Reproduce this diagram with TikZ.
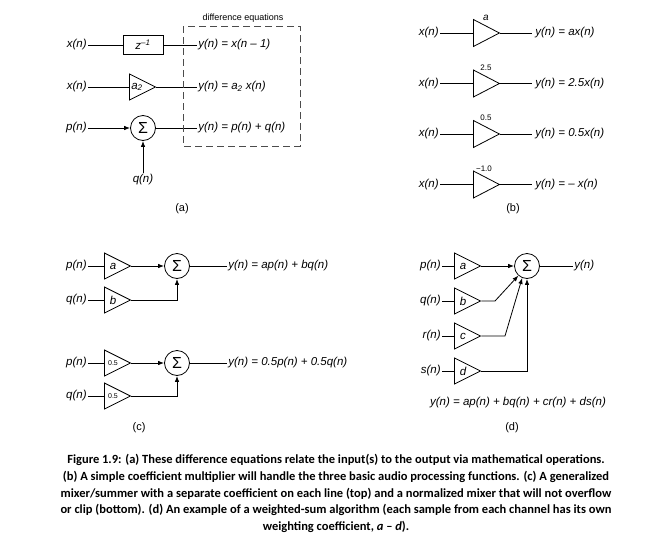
\documentclass[tikz,border=0pt]{standalone}
\usepackage{fontspec}
\setmainfont{Liberation Sans}
\newfontfamily\capfont{Carlito}
\usetikzlibrary{shapes.geometric,arrows.meta}
\tikzset{
  amp/.style={isosceles triangle, isosceles triangle stretches, draw, inner sep=0pt,
    minimum width=26pt, minimum height=26pt},
  sum/.style={circle, draw, inner sep=0pt, minimum size=25pt, font=\fontsize{16}{16}\selectfont},
  sig/.style={font=\fontsize{11.5}{13}\selectfont\itshape, inner sep=1pt},
  coef/.style={font=\fontsize{8}{9}\selectfont, inner sep=0pt},
  tag/.style={font=\fontsize{11}{13}\selectfont},
}

\begin{document}
\begin{tikzpicture}[x=1pt, y=-1pt, line width=0.8pt, >={Latex[length=6pt,width=4.5pt]}]
  \useasboundingbox (0,0) rectangle (672,549);
  % (a) difference equations
  \node[sig, anchor=east] (xa1) at (88,45) {x(n)};
  \node[draw, minimum width=40pt, minimum height=19pt, inner sep=0pt, sig] (dly) at (143,45) {z\textsuperscript{–1}};
  \node[sig, anchor=west] (ya1) at (197,45) {y(n) = x(n – 1)};
  \draw (xa1) -- (dly) (dly) -- (ya1);
  \node[sig, anchor=east] (xa2) at (88,87) {x(n)};
  \node[amp, anchor=lower side] (amp2) at (129,87) {};
  \node[sig] at ([xshift=8pt]amp2.lower side) {a\textsubscript{2}};
  \node[sig, anchor=west] (ya2) at (197,87) {y(n) = a\textsubscript{2} x(n)};
  \draw (xa2) -- (amp2.lower side) (amp2.apex) -- (ya2);
  \node[sig, anchor=east] (pa) at (88,128) {p(n)};
  \node[sum] (suma) at (143,128) {Σ};
  \node[sig] (qa) at (143,180) {q(n)};
  \node[sig, anchor=west] (ya3) at (197,128) {y(n) = p(n) + q(n)};
  \draw[->] (pa) -- (suma);
  \draw[->] (qa) -- (suma);
  \draw (suma) -- (ya3);
  \draw[black!70, dash pattern=on 7pt off 4pt, line width=0.9pt] (183,26) rectangle (300,146);
  \node[font=\fontsize{9}{10}\selectfont] (deq) at (243,18) {difference equations};
  \node[tag] (capa) at (182,209) {(a)};

  % (b) coefficient multipliers
  \node[sig, anchor=east] (xb1) at (440,33) {x(n)};
  \node[amp, minimum width=27pt, anchor=lower side] (mb1) at (473,33) {};
  \node[sig, inner sep=0pt, font=\fontsize{10}{10}\selectfont\itshape] at ([xshift=13pt,yshift=15pt]mb1.lower side) {a};
  \node[sig, anchor=west, inner sep=3pt] (yb1) at (532,33) {y(n) = ax(n)};
  \draw (xb1) -- (mb1.lower side) (mb1.apex) -- (yb1);
  \node[sig, anchor=east] (xb2) at (440,83.5) {x(n)};
  \node[amp, minimum width=27pt, anchor=lower side] (mb2) at (473,83.5) {};
  \node[coef] at ([xshift=13pt,yshift=16pt]mb2.lower side) {2.5};
  \node[sig, anchor=west, inner sep=3pt] (yb2) at (532,83.5) {y(n) = 2.5x(n)};
  \draw (xb2) -- (mb2.lower side) (mb2.apex) -- (yb2);
  \node[sig, anchor=east] (xb3) at (440,134) {x(n)};
  \node[amp, minimum width=27pt, anchor=lower side] (mb3) at (473,134) {};
  \node[coef] at ([xshift=13pt,yshift=16pt]mb3.lower side) {0.5};
  \node[sig, anchor=west, inner sep=3pt] (yb3) at (532,134) {y(n) = 0.5x(n)};
  \draw (xb3) -- (mb3.lower side) (mb3.apex) -- (yb3);
  \node[sig, anchor=east] (xb4) at (440,184.5) {x(n)};
  \node[amp, minimum width=27pt, anchor=lower side] (mb4) at (473,184.5) {};
  \node[coef] at ([xshift=11pt,yshift=16pt]mb4.lower side) {−1.0};
  \node[sig, anchor=west, inner sep=3pt] (yb4) at (532,184.5) {y(n) = – x(n)};
  \draw (xb4) -- (mb4.lower side) (mb4.apex) -- (yb4);
  \node[tag] (capb) at (513,209) {(b)};

  % (c) mixers
  \node[sig, anchor=east] (pc1) at (88,266) {p(n)};
  \node[amp, anchor=lower side] (ac1) at (104,266) {};
  \node[sig] at ([xshift=9pt]ac1.lower side) {a};
  \node[sig, anchor=east] (qc1) at (88,300) {q(n)};
  \node[amp, anchor=lower side] (bc1) at (104,300) {};
  \node[sig] at ([xshift=9pt]bc1.lower side) {b};
  \node[sum] (sc1) at (177,266) {Σ};
  \node[sig, anchor=west] (yc1) at (227,266) {y(n) = ap(n) + bq(n)};
  \draw (pc1) -- (ac1.lower side) (qc1) -- (bc1.lower side);
  \draw[->] (ac1.apex) -- (sc1);
  \draw[->] (bc1.apex) -| (sc1.south);
  \draw (sc1) -- (yc1);
  \node[sig, anchor=east] (pc2) at (88,363) {p(n)};
  \node[amp, anchor=lower side] (ac2) at (104,363) {};
  \node[coef, font=\fontsize{7}{8}\selectfont] at ([xshift=9pt]ac2.lower side) {0.5};
  \node[sig, anchor=east] (qc2) at (88,396) {q(n)};
  \node[amp, anchor=lower side] (bc2) at (104,396) {};
  \node[coef, font=\fontsize{7}{8}\selectfont] at ([xshift=9pt]bc2.lower side) {0.5};
  \node[sum] (sc2) at (177,363) {Σ};
  \node[sig, anchor=west] (yc2) at (227,363) {y(n) = 0.5p(n) + 0.5q(n)};
  \draw (pc2) -- (ac2.lower side) (qc2) -- (bc2.lower side);
  \draw[->] (ac2.apex) -- (sc2);
  \draw[->] (bc2.apex) -| (sc2.south);
  \draw (sc2) -- (yc2);
  \node[tag] (capc) at (139,428) {(c)};

  % (d) weighted sum
  \node[sig, anchor=east] (pd) at (442,266) {p(n)};
  \node[amp, anchor=lower side] (ad) at (454,266) {};
  \node[sig] at ([xshift=9pt]ad.lower side) {a};
  \node[sig, anchor=east] (qd) at (442,301) {q(n)};
  \node[amp, anchor=lower side] (bd) at (454,301) {};
  \node[sig] at ([xshift=9pt]bd.lower side) {b};
  \node[sig, anchor=east] (rd) at (442,336) {r(n)};
  \node[amp, anchor=lower side] (cd) at (454,336) {};
  \node[sig] at ([xshift=9pt]cd.lower side) {c};
  \node[sig, anchor=east] (sd) at (442,371) {s(n)};
  \node[amp, anchor=lower side] (dd) at (454,371) {};
  \node[sig] at ([xshift=9pt]dd.lower side) {d};
  \node[sum] (sumd) at (527,266) {Σ};
  \node[sig, anchor=west] (yd) at (573,266) {y(n)};
  \coordinate (kb) at (495,301);
  \coordinate (kc) at (505,336);
  \draw (pd) -- (ad.lower side) (qd) -- (bd.lower side) (rd) -- (cd.lower side) (sd) -- (dd.lower side);
  \draw[->] (ad.apex) -- (sumd);
  \draw[->] (bd.apex) -- (kb) -- (sumd.228);
  \draw[->] (cd.apex) -- (kc) -- (sumd.248);
  \draw[->] (dd.apex) -| (sumd.south);
  \draw (sumd) -- (yd);
  \node[sig] (eqd) at (518,403) {y(n) = ap(n) + bq(n) + cr(n) + ds(n)};
  \node[tag] (capd) at (512,428) {(d)};

  % caption
  \node[font=\capfont\bfseries\fontsize{12.5}{16.7}\selectfont, align=center] (cap) at (336,493.5)
    {Figure 1.9: (a) These difference equations relate the input(s) to the output via mathematical operations.\\
     (b) A simple coefficient multiplier will handle the three basic audio processing functions. (c) A generalized\\
     mixer/summer with a separate coefficient on each line (top) and a normalized mixer that will not overflow\\
     or clip (bottom). (d) An example of a weighted-sum algorithm (each sample from each channel has its own\\
     weighting coefficient, \textit{a} – \textit{d}).};
\end{tikzpicture}
\end{document}
